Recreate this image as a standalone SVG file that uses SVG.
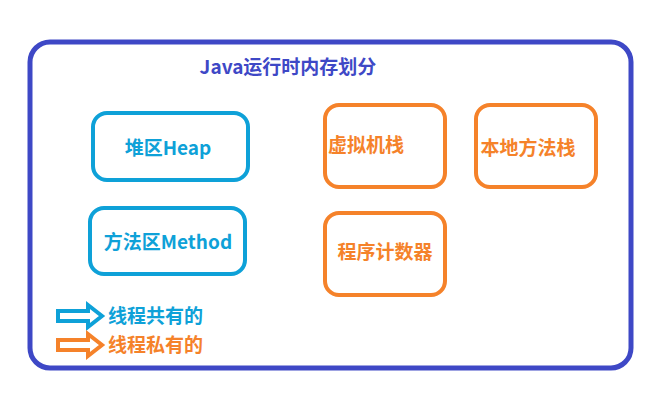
<svg xmlns="http://www.w3.org/2000/svg" width="664" height="401" viewBox="0 0 664 401">
<style>
text{font-family:"Noto Sans CJK SC","Liberation Sans",sans-serif;font-weight:bold;font-size:19px}
.b rect{fill:#fff;stroke:#0ea1d8;stroke-width:4}
.o rect{fill:#fff;stroke:#f5822a;stroke-width:4}
.b text{fill:#0ea1d8}.o text{fill:#f5822a}
</style>
<rect width="664" height="401" fill="#fff"/>
<g id="frame"><rect x="30" y="42" width="601" height="326" rx="20" fill="#fff" stroke="#3e48c6" stroke-width="5"/>
<text x="288" y="74" text-anchor="middle" fill="#3e48c6" font-size="17">Java运行时内存划分</text></g>
<g id="heap" class="b"><rect x="93" y="113" width="155" height="67" rx="14"/><text x="168" y="155" text-anchor="middle">堆区Heap</text></g>
<g id="method" class="b"><rect x="90" y="208" width="155" height="66" rx="14"/><text x="168" y="249" text-anchor="middle">方法区Method</text></g>
<g id="vmstack" class="o"><rect x="325" y="105" width="120" height="82" rx="14"/><text x="366" y="152" text-anchor="middle">虚拟机栈</text></g>
<g id="native" class="o"><rect x="476" y="105" width="120" height="82" rx="14"/><text x="528" y="155" text-anchor="middle">本地方法栈</text></g>
<g id="pc" class="o"><rect x="325" y="213" width="120" height="82" rx="14"/><text x="385" y="259" text-anchor="middle">程序计数器</text></g>
<g id="legend">
<path d="M58 311h30v-6l14 11-14 11v-6h-30z" fill="#fff" stroke="#0ea1d8" stroke-width="4"/>
<text x="108" y="323" fill="#0ea1d8">线程共有的</text>
<path d="M58 340h30v-6l14 11-14 11v-6h-30z" fill="#fff" stroke="#f5822a" stroke-width="4"/>
<text x="108" y="352" fill="#f5822a">线程私有的</text>
</g>
</svg>
